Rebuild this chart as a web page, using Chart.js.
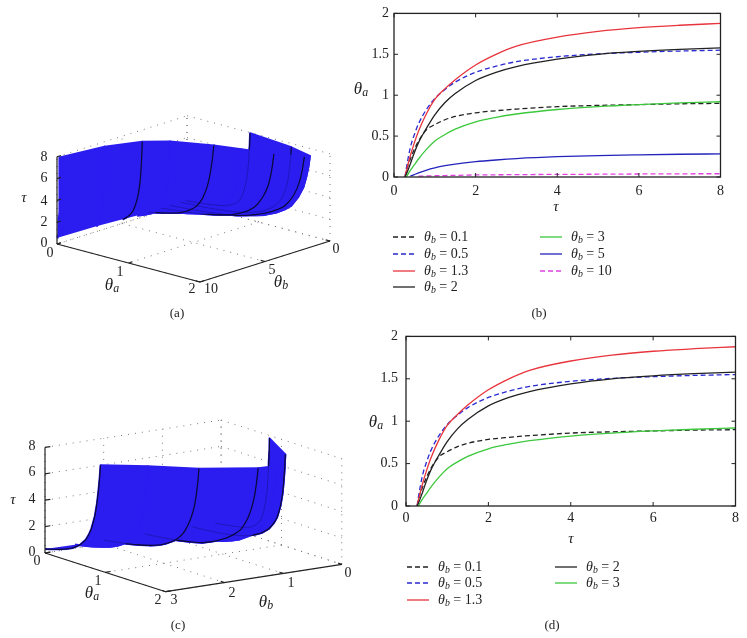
<!DOCTYPE html>
<html>
<head>
<meta charset="utf-8">
<title>theta_a surfaces and curves</title>
<script src="https://cdn.jsdelivr.net/npm/chart.js@4"></script>
<style>
    body { margin: 0; background: #fff; }
    #page { position: relative; width: 747px; height: 638px; overflow: hidden; font-family: "Liberation Serif", serif; color: #222; }
    canvas { position: absolute; }
    svg { position: absolute; }
    .txt { position: absolute; transform: translate(-50%, -50%); white-space: nowrap; line-height: 1; }
    .txt sub { font-size: 70%; line-height: 0; vertical-align: -0.25em; }
</style>
</head>
<body>
<div id="page"></div>
<script>
// Values
const tauValues = [0.27, 0.3, 0.4, 0.5, 0.6, 0.8, 1, 1.25, 1.5, 2, 2.5, 3, 4, 5, 6, 7, 8];
const thetaB01 = [0, 0.07, 0.22, 0.34, 0.44, 0.58, 0.64, 0.7, 0.74, 0.785, 0.81, 0.83, 0.86, 0.875, 0.885, 0.895, 0.9];
const thetaB05 = [0, 0.1, 0.36, 0.52, 0.65, 0.83, 0.96, 1.07, 1.16, 1.28, 1.355, 1.41, 1.47, 1.505, 1.525, 1.54, 1.55];
const thetaB13 = [0, 0.07, 0.26, 0.42, 0.56, 0.78, 0.95, 1.08, 1.19, 1.37, 1.5, 1.6, 1.71, 1.78, 1.825, 1.855, 1.878];
const thetaB2 = [0, 0.03, 0.16, 0.3, 0.42, 0.6, 0.76, 0.91, 1.02, 1.18, 1.28, 1.35, 1.44, 1.5, 1.535, 1.56, 1.578];
const thetaB3 = [null, 0, 0.08, 0.15, 0.22, 0.34, 0.44, 0.52, 0.585, 0.675, 0.73, 0.77, 0.825, 0.86, 0.885, 0.905, 0.92];
const thetaB5 = [null, null, 0.01, 0.03, 0.05, 0.085, 0.112, 0.138, 0.158, 0.187, 0.208, 0.225, 0.248, 0.262, 0.271, 0.278, 0.283];
const thetaB10 = [null, null, null, null, 0.01, 0.012, 0.015, 0.018, 0.02, 0.025, 0.027, 0.029, 0.032, 0.034, 0.037, 0.039, 0.04];

// Sheet only, no curve drawn on these: read from the outline of the 3D surfaces
const thetaB1 = [0, 0.08, 0.3, 0.47, 0.61, 0.83, 1, 1.15, 1.27, 1.43, 1.55, 1.64, 1.74, 1.81, 1.85, 1.88, 1.9];
const thetaB25 = [null, 0.01, 0.11, 0.21, 0.31, 0.46, 0.59, 0.71, 0.8, 0.92, 1, 1.05, 1.12, 1.16, 1.185, 1.2, 1.215];
const thetaB4 = [null, null, 0.03, 0.07, 0.11, 0.18, 0.24, 0.29, 0.33, 0.38, 0.41, 0.43, 0.45, 0.465, 0.475, 0.485, 0.49];
const thetaB7 = [null, null, null, 0.005, 0.015, 0.03, 0.04, 0.05, 0.06, 0.075, 0.085, 0.09, 0.1, 0.105, 0.11, 0.115, 0.12];

const thetaBLevels = [0.1, 0.5, 1.3, 2, 3, 5, 10];
const thetaASeries = [thetaB01, thetaB05, thetaB13, thetaB2, thetaB3, thetaB5, thetaB10];
const lineColors = ['#222222', '#2a2ad2', '#e8343c', '#222222', '#3cc83c', '#2424bc', '#e040e0'];
const lineDashed = [true, true, false, false, false, false, true];

const sheetLevels = [0.1, 0.5, 1, 1.3, 2, 2.5, 3, 4, 5, 7, 10];
const sheetSeries = [thetaB01, thetaB05, thetaB1, thetaB13, thetaB2, thetaB25, thetaB3, thetaB4, thetaB5, thetaB7, thetaB10];
const blackLevels = [0.1, 0.5, 1.3, 2, 3, 5];

const tauTicks = [0, 2, 4, 6, 8];
const thetaATicks = [0, 1, 2];
const thetaATicks2d = [0, 0.5, 1, 1.5, 2];
const thetaBTicksA = [0, 5, 10];
const thetaBTicksC = [0, 1, 2, 3];

const SURFACE_BLUE = '#2b1cf0';
const page = document.getElementById('page');

function addText(html, x, y, size) {
    const el = document.createElement('div');
    el.className = 'txt';
    el.innerHTML = html;
    el.style.left = x + 'px';
    el.style.top = y + 'px';
    el.style.fontSize = (size || 14) + 'px';
    page.appendChild(el);
}

function addCanvas(left, top, width, height) {
    const canvas = document.createElement('canvas');
    canvas.width = width;
    canvas.height = height;
    canvas.style.left = left + 'px';
    canvas.style.top = top + 'px';
    canvas.style.width = width + 'px';
    canvas.style.height = height + 'px';
    page.appendChild(canvas);
    return canvas;
}

const thetaA = '<i>θ<sub>a</sub></i>';
const thetaBLabel = '<i>θ<sub>b</sub></i>';
const tauLabel = '<i>τ</i>';

// Frame with inward ticks on all four sides
const frameTicks = {
    id: 'frameTicks',
    afterDraw(chart) {
        const { ctx, chartArea: a, scales } = chart;
        ctx.save();
        ctx.strokeStyle = '#222';
        ctx.lineWidth = 1.3;
        ctx.strokeRect(a.left, a.top, a.right - a.left, a.bottom - a.top);
        ctx.lineWidth = 1;
        ctx.beginPath();
        scales.x.ticks.forEach(t => {
            const px = scales.x.getPixelForValue(t.value);
            ctx.moveTo(px, a.bottom); ctx.lineTo(px, a.bottom - 4);
            ctx.moveTo(px, a.top); ctx.lineTo(px, a.top + 4);
        });
        scales.y.ticks.forEach(t => {
            const py = scales.y.getPixelForValue(t.value);
            ctx.moveTo(a.left, py); ctx.lineTo(a.left + 4, py);
            ctx.moveTo(a.right, py); ctx.lineTo(a.right - 4, py);
        });
        ctx.stroke();
        ctx.restore();
    }
};

function curvePoints(values) {
    const pts = [];
    values.forEach((v, i) => {
        if (v !== null) pts.push({ x: tauValues[i], y: v });
    });
    return pts;
}

function makeLineChart(box, count) {
    const datasets = [];
    for (let i = count - 1; i >= 0; i--) {
        datasets.push({
            data: curvePoints(thetaASeries[i]),
            showLine: true,
            borderColor: lineColors[i],
            borderWidth: 1.3,
            borderDash: lineDashed[i] ? [5, 3] : [],
            pointRadius: 0,
            cubicInterpolationMode: 'monotone'
        });
    }
    new Chart(addCanvas(box.left, box.top, box.width, box.height), {
        type: 'scatter',
        data: { datasets: datasets },
        plugins: [frameTicks],
        options: {
            responsive: false,
            animation: false,
            layout: { padding: { top: box.padTop, right: box.padRight } },
            plugins: { legend: { display: false }, tooltip: { enabled: false } },
            scales: {
                x: {
                    type: 'linear', min: 0, max: 8,
                    afterBuildTicks: s => { s.ticks = tauTicks.map(v => ({ value: v })); },
                    afterFit: s => { s.height = box.axisH; },
                    grid: { display: false, drawTicks: false }, border: { display: false },
                    ticks: { color: '#222', padding: box.padX, maxRotation: 0, font: { family: 'Liberation Serif', size: 14 }, callback: v => String(v) }
                },
                y: {
                    type: 'linear', min: 0, max: 2,
                    afterBuildTicks: s => { s.ticks = thetaATicks2d.map(v => ({ value: v })); },
                    afterFit: s => { s.width = box.axisW; },
                    grid: { display: false, drawTicks: false }, border: { display: false },
                    ticks: { color: '#222', padding: box.padY, font: { family: 'Liberation Serif', size: 14 }, callback: v => String(v) }
                }
            }
        }
    });
}

function addLegend(rows) {
    rows.forEach(r => {
        const dash = lineDashed[r.i] ? ' stroke-dasharray="5 3"' : '';
        const sample = document.createElementNS('http://www.w3.org/2000/svg', 'svg');
        sample.setAttribute('width', '22');
        sample.setAttribute('height', '4');
        sample.style.left = r.x + 'px';
        sample.style.top = (r.y - 2) + 'px';
        sample.innerHTML = '<line x1="0" y1="2" x2="22" y2="2" stroke="' + lineColors[r.i] + '" stroke-width="1.3"' + dash + '/>';
        page.appendChild(sample);
        const label = document.createElement('div');
        label.className = 'txt';
        label.style.transform = 'translateY(-50%)';
        label.style.left = (r.x + 31) + 'px';
        label.style.top = r.y + 'px';
        label.style.fontSize = '14px';
        label.innerHTML = thetaBLabel + '&nbsp;=&nbsp;' + thetaBLevels[r.i];
        page.appendChild(label);
    });
}

// Oblique projection of (theta_a, theta_b, tau) into the panel
function projector(view, bMax) {
    return (a, b, t) => ({
        x: view.x0 + view.ax * a + view.bx * (bMax - b),
        y: view.y0 + view.ay * a + view.by * (bMax - b) - view.ty * t
    });
}

function makeSurface(box, view, bMax, bTicks) {
    const proj = projector(view, bMax);
    const far = [];
    const lineSet = (pts, color, width, extra) => Object.assign({
        data: pts, showLine: true, borderColor: color, borderWidth: width, pointRadius: 0
    }, extra || {});
    const curve3d = i => {
        const pts = [];
        sheetSeries[i].forEach((v, k) => {
            if (v !== null) pts.push(proj(v, sheetLevels[i], tauValues[k]));
        });
        return pts;
    };
    const levels = sheetLevels.filter(b => b <= bMax);

    // dotted walls and floor
    const dotted = pts => lineSet(pts, '#777', 1, { borderDash: [1, 6] });
    bTicks.forEach(b => {
        far.push(dotted([proj(0, b, 0), proj(2, b, 0)]));
        far.push(dotted([proj(0, b, 0), proj(0, b, 8)]));
    });
    thetaATicks.forEach(a => {
        far.push(dotted([proj(a, 0, 0), proj(a, bMax, 0)]));
        far.push(dotted([proj(a, 0, 0), proj(a, 0, 8)]));
    });
    tauTicks.forEach(t => {
        far.push(dotted([proj(0, bMax, t), proj(0, 0, t)]));
        far.push(dotted([proj(0, 0, t), proj(2, 0, t)]));
    });

    // sheet between neighbouring curves, back to front, black curve over its own strip
    levels.forEach((b, i) => {
        if (i < levels.length - 1) {
            const poly = curve3d(i).concat(curve3d(i + 1).reverse());
            far.push(lineSet(poly, SURFACE_BLUE, 2, { backgroundColor: SURFACE_BLUE, fill: 'shape', borderJoinStyle: 'round' }));
        }
        if (blackLevels.includes(b)) far.push(lineSet(curve3d(i), '#0a0a30', 1.1, { tension: 0.2 }));
    });
    // the mesh lets the hidden curves show a little
    levels.forEach((b, i) => {
        if (blackLevels.includes(b)) far.push(lineSet(curve3d(i), 'rgba(10,10,60,0.3)', 1, { tension: 0.2 }));
    });

    // axes
    const axis = pts => lineSet(pts, '#222', 1.2);
    far.push(axis([proj(0, bMax, 0), proj(0, bMax, 8)]));
    far.push(axis([proj(0, bMax, 0), proj(2, bMax, 0)]));
    far.push(axis([proj(2, bMax, 0), proj(2, 0, 0)]));
    tauTicks.forEach(t => far.push(axis([proj(0, bMax, t), proj(0, bMax * 0.97, t)])));
    thetaATicks.forEach(a => far.push(axis([proj(a, bMax, 0), proj(a, bMax * 0.97, 0)])));
    bTicks.forEach(b => far.push(axis([proj(2, b, 0), proj(1.94, b, 0)])));

    // first dataset is painted last
    new Chart(addCanvas(box.left, box.top, box.width, box.height), {
        type: 'scatter',
        data: { datasets: far.reverse() },
        options: {
            responsive: false,
            animation: false,
            plugins: { legend: { display: false }, tooltip: { enabled: false } },
            scales: {
                x: { type: 'linear', display: false, min: box.left, max: box.left + box.width },
                y: { type: 'linear', display: false, reverse: true, min: box.top, max: box.top + box.height }
            }
        }
    });
}

// Panel (a)
makeSurface({ left: 0, top: 100, width: 345, height: 200 },
    { x0: 57, y0: 244, ax: 71.5, ay: 19, bx: 13, by: -4.1, ty: 10.9 }, 10, thetaBTicksA);
[['8', 157], ['6', 178], ['4', 200.5], ['2', 222], ['0', 243]].forEach(l => addText(l[0], 44, l[1]));
addText(tauLabel, 24, 197, 15);
addText('0', 50, 253); addText('1', 120, 272); addText('2', 192, 289);
addText(thetaA, 112, 284, 17);
addText('10', 211, 289); addText('5', 272, 270); addText('0', 336, 249);
addText(thetaBLabel, 281, 281, 17);
addText('(a)', 177, 312, 13);

// Panel (c)
makeSurface({ left: 0, top: 410, width: 345, height: 195 },
    { x0: 45, y0: 553, ax: 60.35, ay: 19.35, bx: 58.7, by: -9.13, ty: 13.2 }, 3, thetaBTicksC);
[['8', 446], ['6', 472], ['4', 499], ['2', 526], ['0', 552]].forEach(l => addText(l[0], 32, l[1]));
addText(tauLabel, 13, 499, 15);
addText('0', 37, 561); addText('1', 98, 581); addText('2', 158, 600);
addText(thetaA, 92, 592, 17);
addText('3', 174, 600); addText('2', 232, 593); addText('1', 291, 583); addText('0', 348, 573);
addText(thetaBLabel, 266, 601, 17);
addText('(c)', 178, 624, 13);

// Panel (b)
makeLineChart({ left: 344, top: 0, width: 386, height: 200, padTop: 12, padRight: 6, axisH: 23, axisW: 50, padX: 6, padY: 5 }, 7);
addText(thetaA, 361, 88, 17);
addText(tauLabel, 556, 206, 15);
addLegend([
    { i: 0, x: 393, y: 237 }, { i: 1, x: 393, y: 254 }, { i: 2, x: 393, y: 271 }, { i: 3, x: 393, y: 287 },
    { i: 4, x: 540, y: 237 }, { i: 5, x: 540, y: 254 }, { i: 6, x: 540, y: 271 }
]);
addText('(b)', 539, 312, 13);

// Panel (d)
makeLineChart({ left: 356, top: 320, width: 387, height: 210, padTop: 13, padRight: 6, axisH: 24, axisW: 50, padX: 4, padY: 8 }, 5);
addText(thetaA, 376, 421, 17);
addText(tauLabel, 571, 538, 15);
addLegend([
    { i: 0, x: 407, y: 567 }, { i: 1, x: 407, y: 583 }, { i: 2, x: 407, y: 600 },
    { i: 3, x: 555, y: 567 }, { i: 4, x: 555, y: 583 }
]);
addText('(d)', 552, 624, 13);
</script>
</body>
</html>
